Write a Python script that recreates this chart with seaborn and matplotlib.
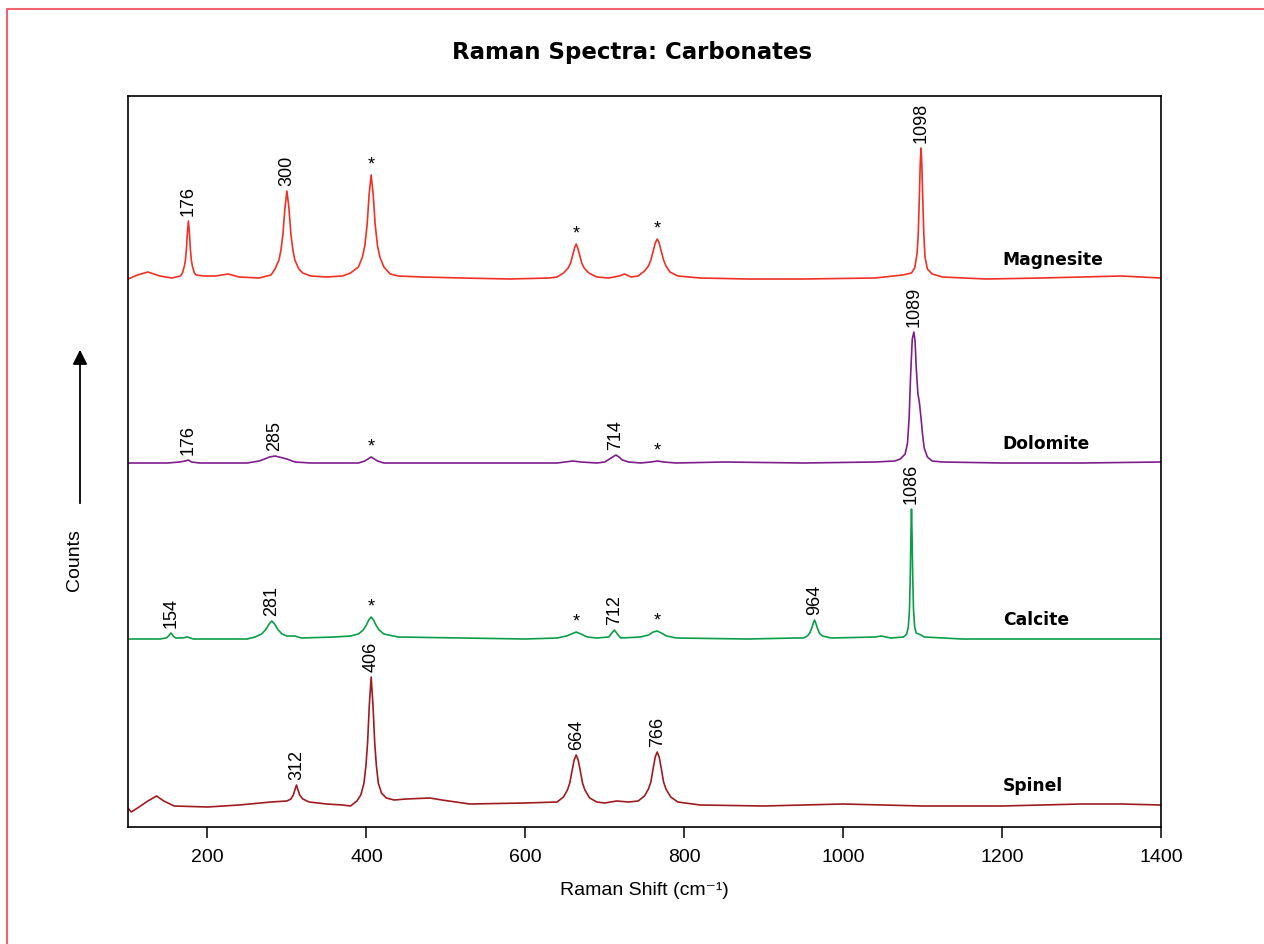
import matplotlib
matplotlib.use("Agg")
import matplotlib.pyplot as plt
from matplotlib.lines import Line2D
import numpy as np
import pandas as pd
import seaborn as sns

# ---------------- data ----------------
names = ["Magnesite", "Dolomite", "Calcite", "Spinel"]
colors = ["#EE3124", "#7E1E8C", "#0A9E48", "#9E1B1F"]
offsets = [548, 364, 188, 22]

mag_x = [100, 112, 125, 140, 155, 166, 168.5, 171, 172.3, 173.5, 174.8, 176, 177.2, 178.5, 179.7,
         181, 183.5, 186, 195, 210, 226, 240, 265, 280, 285, 290, 292.5, 295, 297.5, 300, 302.5,
         305, 307.5, 310, 315, 320, 330, 350, 370, 380, 390, 395, 398, 401, 403.5, 406, 408.5,
         411, 414, 417, 422, 430, 440, 470, 520, 580, 630, 640, 648, 654, 657, 660, 662, 664, 666,
         668, 671, 674, 680, 690, 705, 718, 725, 733, 742, 750, 755, 758, 761, 763.5, 766, 768.5,
         771, 774, 777, 782, 792, 820, 880, 950, 1040, 1075, 1086, 1090, 1093, 1094.5, 1096, 1097,
         1098, 1099, 1100, 1101.5, 1103, 1106, 1112, 1125, 1180, 1250, 1300, 1350, 1400]
mag_y = [0, 4, 7, 3, 1, 3, 6, 13, 19, 30, 47, 58, 47, 30, 19,
         13, 6, 4, 3, 3, 5, 2, 1, 4, 10, 19, 29, 45, 71, 88, 71,
         45, 29, 19, 10, 6, 3, 2, 3, 6, 12, 22, 33, 55, 85, 104, 85,
         55, 33, 22, 12, 5, 3, 2, 1, 0, 1, 2, 6, 11, 16, 25, 31, 35, 31,
         25, 16, 11, 6, 2, 1, 3, 5, 2, 3, 8, 13, 19, 28, 36, 40, 36,
         28, 19, 13, 7, 3, 1, 0, 0, 1, 4, 6, 11, 25, 45, 85, 115,
         131, 115, 85, 45, 22, 10, 5, 2, 0, 1, 2, 3, 1]

dol_x = [100, 150, 165, 172, 176, 180, 190, 250, 265, 272, 278, 285, 290, 295, 300, 310, 330, 390,
         398, 402, 406, 410, 414, 422, 500, 600, 640, 660, 670, 690, 700, 706, 710, 714, 718, 722,
         730, 745, 758, 766, 774, 790, 850, 950, 1040, 1065, 1072, 1078, 1081, 1083, 1085, 1087,
         1089, 1090.5, 1092, 1094, 1096, 1098, 1100, 1102, 1106, 1112, 1125, 1200, 1300, 1400]
dol_y = [0, 0, 1, 2, 3, 1, 0, 0, 2, 4, 6, 7, 6, 5, 4, 1, 0, 0,
         2, 4, 6, 4, 2, 0, 0, 0, 0, 2, 1, 0, 1, 4, 6, 8, 6, 3,
         1, 0, 1, 2, 1, 0, 1, 0, 1, 2, 4, 9, 20, 45, 90, 124,
         131, 122, 95, 70, 60, 45, 28, 15, 6, 2, 1, 0, 0, 1]

cal_x = [100, 140, 148, 151, 154, 157, 160, 168, 175, 182, 250, 260, 268, 273, 276, 278.5, 281,
         283.5, 286, 289, 294, 300, 310, 318, 360, 380, 390, 396, 400, 403, 406, 409, 412, 416,
         422, 440, 520, 600, 640, 652, 658, 664, 670, 678, 690, 705, 709, 712, 715, 720, 745, 755,
         761, 766, 771, 778, 790, 880, 940, 950, 955, 958, 960.5, 962.5, 964, 965.5, 967.5, 970,
         974, 985, 1040, 1048, 1060, 1076, 1080, 1082, 1083.5, 1084.5, 1085.3, 1086, 1086.7,
         1087.5, 1088.5, 1090, 1092, 1095, 1098, 1102, 1150, 1300, 1400]
cal_y = [0, 0, 1, 3, 6, 3, 1, 1, 2, 0, 0, 2, 5, 9, 13, 16, 18,
         16, 13, 9, 5, 3, 3, 1, 2, 3, 5, 9, 14, 19, 22, 19, 14, 9,
         5, 2, 1, 0, 1, 3, 5, 7, 5, 2, 1, 2, 6, 9, 6, 1, 2, 4,
         7, 8, 6, 3, 1, 0, 1, 1, 3, 6, 11, 16, 19, 16, 11, 6,
         3, 1, 2, 3, 1, 2, 5, 12, 30, 65, 105, 130, 105,
         65, 30, 12, 6, 5, 4, 2, 0, 0, 0]

spi_x = [100, 104, 112, 125, 136, 145, 158, 200, 240, 280, 300, 305, 308, 310, 312, 314, 316, 320,
         328, 350, 370, 380, 388, 393, 397, 399.5, 401.5, 403.7, 406, 408.3, 410.5, 412.5, 415,
         419, 425, 435, 450, 480, 495, 530, 600, 640, 648, 653, 656, 659, 661.5, 664, 666.5, 669,
         672, 675, 681, 690, 700, 715, 730, 742, 750, 755, 758, 761, 763.5, 766, 768.5, 771, 774,
         777, 783, 792, 820, 900, 1000, 1100, 1200, 1300, 1350, 1400]
spi_y = [-3, -7, -3, 4, 9, 4, -1, -2, 0, 3, 4, 6, 10, 15, 20, 15, 10, 6,
         3, 1, 0, -1, 4, 10, 22, 40, 62, 100, 128, 100, 62, 40, 22,
         12, 7, 5, 6, 7, 5, 1, 2, 3, 8, 15, 22, 35, 45, 50, 45, 35,
         22, 15, 7, 3, 2, 4, 3, 4, 9, 16, 23, 37, 48, 53, 48, 37, 23,
         16, 8, 3, 0, -1, 1, -1, -1, 1, 1, 0]

xs = [mag_x, dol_x, cal_x, spi_x]
ys = [mag_y, dol_y, cal_y, spi_y]

peak_labels = [
    [("176", 176), ("300", 300), ("*", 406), ("*", 664), ("*", 766), ("1098", 1098)],
    [("176", 176), ("285", 285), ("*", 406), ("714", 714), ("*", 766), ("1089", 1089)],
    [("154", 154), ("281", 281), ("*", 406), ("*", 664), ("712", 712), ("*", 766),
     ("964", 964), ("1086", 1086)],
    [("312", 312), ("406", 406), ("664", 664), ("766", 766)],
]
xticks = [200, 400, 600, 800, 1000, 1200, 1400]

# ---------------- style ----------------
sns.set_theme(style="ticks")
plt.rcParams["font.family"] = ["Liberation Sans", "DejaVu Sans"]
bold_font = ["DejaVu Sans"]

fig = plt.figure(figsize=(12.64, 9.45), dpi=100)
ax = fig.add_axes([128 / 1264, 1 - 828 / 945, (1161 - 128) / 1264, (828 - 97) / 945])

for name, col, off, x, y in zip(names, colors, offsets, xs, ys):
    df = pd.DataFrame({"shift": x, "counts": np.array(y, dtype=float) + off})
    sns.lineplot(data=df, x="shift", y="counts", ax=ax, color=col, lw=1.2,
                 estimator=None, sort=False)

# peak annotations
for labels, off, x, y in zip(peak_labels, offsets, xs, ys):
    xa = np.array(x, dtype=float)
    ya = np.array(y, dtype=float)
    for txt, px in labels:
        top = ya[np.abs(xa - px) <= 3].max() + off
        if txt == "*":
            ax.annotate(txt, xy=(px, top), xytext=(0, 8), textcoords="offset points",
                        ha="center", va="center", fontsize=13, color="black")
        else:
            ax.annotate(txt, xy=(px, top), xytext=(0, 4), textcoords="offset points",
                        ha="center", va="bottom", rotation=90, fontsize=13, color="black")

# spectrum names
for name, off in zip(names, offsets):
    ax.text(1201, off + 20, name, ha="left", va="center", fontsize=12.3,
            fontweight="bold", family=bold_font, color="black")

ax.set_xlim(100, 1400)
ax.set_ylim(0, 731)
ax.set_xticks(xticks)
ax.set_xticklabels([str(t) for t in xticks])
ax.set_yticks([])
ax.tick_params(axis="x", direction="out", length=8, width=1.1, labelsize=14, pad=7,
               colors="black")
for s in ax.spines.values():
    s.set_linewidth(1.2)
    s.set_color("black")
ax.set_xlabel("Raman Shift (cm\u207b\u00b9)", fontsize=14, labelpad=12, color="black")
ax.set_ylabel("")

fig.text(0.5, 1 - 52 / 945, "Raman Spectra: Carbonates", ha="center", va="center",
         fontsize=16.5, fontweight="bold", family=bold_font, color="black")

fig.text(75 / 1264, 1 - 560 / 945, "Counts", rotation=90, ha="center", va="center",
         fontsize=14, color="black")
ax.annotate("", xy=(80, 945 - 348), xytext=(80, 945 - 507), xycoords="figure pixels",
            textcoords="figure pixels",
            arrowprops=dict(arrowstyle="-|>", lw=1.3, color="black", mutation_scale=22))

# pink frame
fig.add_artist(Line2D([7 / 1264, 1.0], [1 - 10 / 945, 1 - 10 / 945], transform=fig.transFigure,
                      color="#EF6470", lw=1.5))
fig.add_artist(Line2D([7 / 1264, 7 / 1264], [0.0, 1 - 10 / 945], transform=fig.transFigure,
                      color="#EF6470", lw=1.5))

fig.savefig("out.png", dpi=100, facecolor="white")
